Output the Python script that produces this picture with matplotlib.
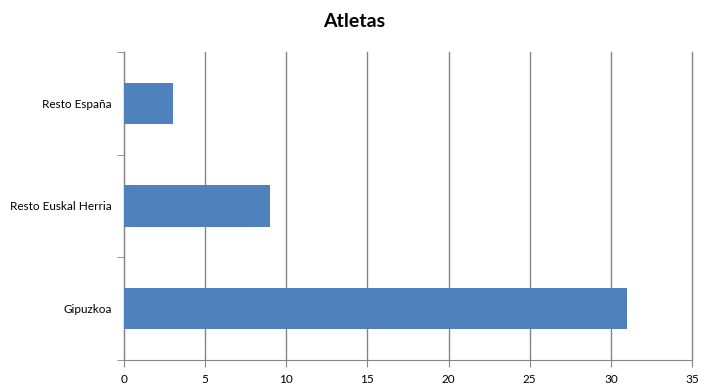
import numpy as np
import matplotlib.pyplot as plt

plt.rcParams['font.family'] = ['Lato', 'DejaVu Sans']

categorias = ["Gipuzkoa", "Resto Euskal Herria", "Resto España"]
atletas = [31, 9, 3]
xticks = [0, 5, 10, 15, 20, 25, 30, 35]

fig = plt.figure(figsize=(7.08, 3.92), dpi=100)
ax = fig.add_axes([124/708, 32/392, 568/708, 308/392])

pos = np.arange(len(categorias))
ax.barh(pos, atletas, height=0.4, color="#4f81bd", zorder=3)

ax.set_xlim(0, 35)
ax.set_ylim(-0.5, len(categorias) - 0.5)
ax.set_xticks(xticks)
ax.set_xticklabels([str(t) for t in xticks], fontsize=8.5)
ax.grid(axis="x", color="#868686", linewidth=1, zorder=0)
for gl in ax.get_xgridlines():
    gl.set_clip_on(False)

# etiquetas centradas, ticks entre categorias
ax.set_yticks(pos)
ax.set_yticklabels(categorias, fontsize=8.5)
ax.set_yticks(np.arange(-0.5, len(categorias), 1), minor=True)
ax.tick_params(axis="y", which="major", length=0, pad=9)
ax.tick_params(axis="y", which="minor", length=5, color="#868686")
ax.tick_params(axis="x", length=5, color="#868686", pad=5)

for s in ["top", "right"]:
    ax.spines[s].set_visible(False)
for s in ["left", "bottom"]:
    ax.spines[s].set_color("#868686")

fig.text(0.5, 0.945, "Atletas", ha="center", va="center", fontsize=14, fontweight="bold")

fig.savefig("out.png", dpi=100)
